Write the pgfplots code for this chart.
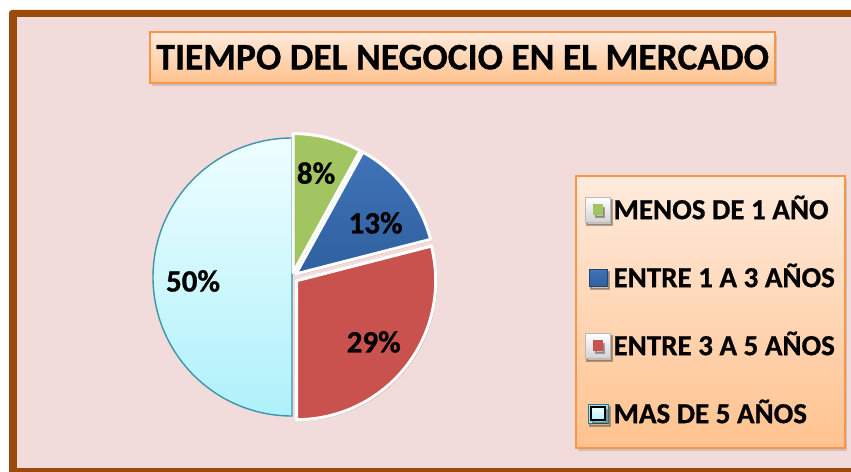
\documentclass[border=0pt]{standalone}
\usepackage{pgfplots}
\pgfplotsset{compat=1.18}
\usepackage{pgfplotstable}
\usepackage{fontspec}
\setmainfont{Carlito}[BoldFeatures={FakeBold=0.8}]
\usetikzlibrary{shadows}

\definecolor{bgpink}{HTML}{F2DCDB}
\definecolor{framebrown}{HTML}{9A4A09}
\definecolor{orng}{HTML}{F79646}
\definecolor{peachT}{HTML}{FFEBDD}
\definecolor{peachB}{HTML}{FFC28E}
\definecolor{sgreen}{HTML}{A2C461}
\definecolor{sblueT}{HTML}{4073B7}
\definecolor{sblueB}{HTML}{2F609F}
\definecolor{sred}{HTML}{C9524F}
\definecolor{scyanT}{HTML}{EEFEFF}
\definecolor{scyanB}{HTML}{AFF1FB}
\definecolor{scyanD}{HTML}{3E94AA}

% value = percentage, explode = offset (radius units), lx/ly = label position
\pgfplotstableread[col sep=comma]{
label,value,explode,lx,ly
MENOS DE 1 AÑO,8,0.033,0.165,0.710
ENTRE 1 A 3 AÑOS,13,0.036,0.573,0.362
ENTRE 3 A 5 AÑOS,29,0.043,0.554,-0.446
MAS DE 5 AÑOS,50,0,-0.712,-0.034
}\piedata

\def\cum{90}
\foreach \i/\n in {0/A,1/B,2/C,3/D}{%
  \pgfplotstablegetelem{\i}{value}\of\piedata
  \pgfmathsetmacro\pval{\pgfplotsretval}%
  \expandafter\xdef\csname val\n\endcsname{\pgfplotsretval}%
  \pgfplotstablegetelem{\i}{explode}\of\piedata
  \pgfmathsetmacro\pexp{\pgfplotsretval}%
  \pgfplotstablegetelem{\i}{lx}\of\piedata
  \expandafter\xdef\csname lx\n\endcsname{\pgfplotsretval}%
  \pgfplotstablegetelem{\i}{ly}\of\piedata
  \expandafter\xdef\csname ly\n\endcsname{\pgfplotsretval}%
  \pgfmathsetmacro\pend{\cum-3.6*\pval}%
  \pgfmathsetmacro\pmid{(\cum+\pend)/2}%
  \pgfmathsetmacro\pex{\pexp*cos(\pmid)}%
  \pgfmathsetmacro\pey{\pexp*sin(\pmid)}%
  \expandafter\xdef\csname sa\n\endcsname{\cum}%
  \expandafter\xdef\csname sb\n\endcsname{\pend}%
  \expandafter\xdef\csname ex\n\endcsname{\pex}%
  \expandafter\xdef\csname ey\n\endcsname{\pey}%
  \xdef\cum{\pend}%
}

\newcommand\drawslice[2]{%
  \path[#2] (axis cs:\csname ex#1\endcsname,\csname ey#1\endcsname)
    -- ++({\csname sa#1\endcsname}:139pt)
    arc[start angle=\csname sa#1\endcsname, end angle=\csname sb#1\endcsname, radius=139pt]
    -- cycle;}
\newcommand\slicelabel[1]{%
  \node[font=\fontsize{31}{31}\selectfont\bfseries, text height=19.6pt, text depth=0pt, inner sep=0pt]
    at (axis cs:{\csname ex#1\endcsname+\csname lx#1\endcsname},{\csname ey#1\endcsname+\csname ly#1\endcsname}) {\csname val#1\endcsname\%};}
\newcommand\legtext[1]{\makebox[222pt][l]{#1}}

\begin{document}
\begin{tikzpicture}
\useasboundingbox (0pt,0pt) rectangle (851pt,471pt);
\fill[white] (0pt,0pt) rectangle (851pt,471pt);
\fill[framebrown, rounded corners=3pt] (9pt,-10pt) rectangle (870pt,461pt);
\fill[bgpink] (17pt,3.3pt) rectangle (870pt,453.5pt);
\begin{axis}[
  at={(292pt,194pt)}, anchor=origin,
  x=139pt, y=139pt,
  xmin=-1.1, xmax=1.1, ymin=-1.1, ymax=1.1,
  hide axis, clip=false,
  title={TIEMPO DEL NEGOCIO EN EL MERCADO},
  title style={at={(axis description cs:1.0582,1.198)}, anchor=center,
    draw=orng, line width=2pt, top color=peachT, bottom color=peachB,
    minimum width=625pt, minimum height=51pt, inner sep=0pt,
    text height=23.7pt, text depth=0pt,
    font=\fontsize{37.5}{37.5}\selectfont\bfseries,
    drop shadow={shadow xshift=2pt, shadow yshift=-3pt, opacity=0.3}},
  legend cell align=left,
  legend style={at={(axis description cs:1.4254,0.8336)}, anchor=north west,
    draw=orng, line width=2pt, top color=peachT, bottom color=peachB,
    inner xsep=9pt, inner ysep=0pt, row sep=0pt, column sep=3pt,
    font=\fontsize{29}{29}\selectfont\bfseries,
    nodes={inner sep=0pt, text height=43.15pt, text depth=24.85pt},
    drop shadow={shadow xshift=2pt, shadow yshift=-3pt, opacity=0.3}},
]
% slices
\drawslice{D}{top color=scyanT, bottom color=scyanB, draw=scyanD, line width=1.4pt}
\drawslice{A}{fill=black, opacity=0.18, xshift=1.5pt, yshift=-1.5pt}
\drawslice{B}{fill=black, opacity=0.18, xshift=1.5pt, yshift=-1.5pt}
\drawslice{C}{fill=black, opacity=0.18, xshift=1.5pt, yshift=-1.5pt}
\drawslice{A}{fill=sgreen, draw=white, line width=3pt, line join=round}
\drawslice{B}{top color=sblueT, bottom color=sblueB, draw=white, line width=3pt, line join=round}
\drawslice{C}{fill=sred, draw=white, line width=3pt, line join=round}
\slicelabel{A}
\slicelabel{B}
\slicelabel{C}
\slicelabel{D}
% legend
\addlegendimage{legend image code/.code={
  \draw[draw=gray!55, top color=white, bottom color=gray!35, line width=0.6pt] (0pt,-12.5pt) rectangle (25pt,12.5pt);
  \fill[sgreen] (8.5pt,-4.5pt) rectangle (16.5pt,4.5pt);}}
\addlegendentry{\legtext{MENOS DE 1 AÑO}}
\addlegendimage{legend image code/.code={
  \draw[draw=sblueB!70!black, top color=sblueT, bottom color=sblueB, line width=0.6pt] (4pt,-8.5pt) rectangle (22pt,8.5pt);}}
\addlegendentry{\legtext{ENTRE 1 A 3 AÑOS}}
\addlegendimage{legend image code/.code={
  \draw[draw=gray!55, top color=white, bottom color=gray!35, line width=0.6pt] (0pt,-12.5pt) rectangle (25pt,12.5pt);
  \fill[sred] (8.5pt,-4.5pt) rectangle (16.5pt,4.5pt);}}
\addlegendentry{\legtext{ENTRE 3 A 5 AÑOS}}
\addlegendimage{legend image code/.code={
  \draw[draw=scyanD!80!black, fill=scyanB!85!scyanD, line width=0.8pt] (3pt,-9.5pt) rectangle (23pt,9.5pt);
  \fill[top color=scyanT, bottom color=scyanB] (6pt,-6.5pt) rectangle (20pt,6.5pt);}}
\addlegendentry{\legtext{MAS DE 5 AÑOS}}
\end{axis}
\end{tikzpicture}
\end{document}
